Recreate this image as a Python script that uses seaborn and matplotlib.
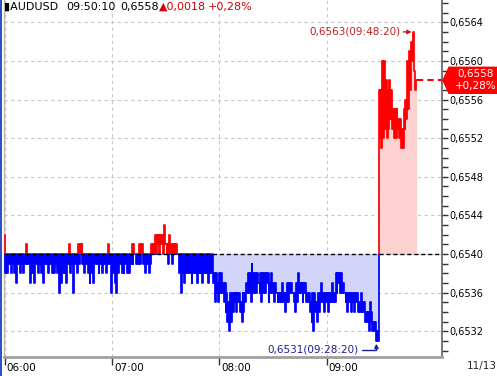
import numpy as np
import pandas as pd
import matplotlib
matplotlib.use("Agg")
import matplotlib.pyplot as plt
import seaborn as sns
from matplotlib.patches import Rectangle, Polygon
from matplotlib.transforms import ScaledTranslation, IdentityTransform

# ---------------- data (per-minute tick range, AUDUSD, from 06:00) ----------------
hour_labels = ["06:00", "07:00", "08:00", "09:00"]
baseline = 0.6540          # previous close
last_price = 0.6558
header_black = ["\u25aeAUDUSD", "09:50:10", "0,6558"]
header_red = ["\u25b20,0018", "+0,28%"]
change_pct = "+0,28%"
date_label = "11/13"

hi = [
    0.6542, 0.6540, 0.6540, 0.6540, 0.6540, 0.6540, 0.6540, 0.6540, 0.6540, 0.6540,
    0.6540, 0.6540, 0.6541, 0.6540, 0.6540, 0.6540, 0.6540, 0.6540, 0.6540, 0.6540,
    0.6540, 0.6540, 0.6540, 0.6540, 0.6540, 0.6540, 0.6540, 0.6540, 0.6540, 0.6540,
    0.6540, 0.6540, 0.6540, 0.6540, 0.6540, 0.6540, 0.6541, 0.6540, 0.6540, 0.6540,
    0.6540, 0.6541, 0.6541, 0.6541, 0.6540, 0.6540, 0.6540, 0.6540, 0.6540, 0.6540,
    0.6540, 0.6540, 0.6540, 0.6540, 0.6540, 0.6540, 0.6540, 0.6540, 0.6541, 0.6540,
    0.6540, 0.6540, 0.6540, 0.6540, 0.6540, 0.6540, 0.6540, 0.6540, 0.6540, 0.6540,
    0.6540, 0.6541, 0.6541, 0.6540, 0.6540, 0.6541, 0.6541, 0.6541, 0.6540, 0.6540,
    0.6540, 0.6540, 0.6541, 0.6541, 0.6542, 0.6542, 0.6542, 0.6542, 0.6542, 0.6543,
    0.6541, 0.6541, 0.6542, 0.6541, 0.6541, 0.6541, 0.6541, 0.6540, 0.6540, 0.6540,
    0.6540, 0.6540, 0.6540, 0.6540, 0.6540, 0.6540, 0.6540, 0.6540, 0.6540, 0.6540,
    0.6540, 0.6540, 0.6540, 0.6540, 0.6540, 0.6540, 0.6540, 0.6538, 0.6538, 0.6537,
    0.6538, 0.6538, 0.6537, 0.6537, 0.6536, 0.6535, 0.6536, 0.6536, 0.6536, 0.6536,
    0.6536, 0.6536, 0.6535, 0.6536, 0.6536, 0.6537, 0.6538, 0.6538, 0.6539, 0.6538,
    0.6538, 0.6538, 0.6537, 0.6538, 0.6538, 0.6538, 0.6538, 0.6538, 0.6537, 0.6538,
    0.6537, 0.6537, 0.6536, 0.6536, 0.6536, 0.6537, 0.6536, 0.6536, 0.6537, 0.6537,
    0.6537, 0.6536, 0.6536, 0.6537, 0.6538, 0.6537, 0.6537, 0.6537, 0.6537, 0.6536,
    0.6536, 0.6535, 0.6536, 0.6536, 0.6535, 0.6536, 0.6536, 0.6537, 0.6536, 0.6536,
    0.6536, 0.6536, 0.6536, 0.6537, 0.6536, 0.6538, 0.6538, 0.6538, 0.6538, 0.6537,
    0.6536, 0.6536, 0.6536, 0.6536, 0.6536, 0.6536, 0.6536, 0.6536, 0.6535, 0.6536,
    0.6535, 0.6535, 0.6534, 0.6534, 0.6535, 0.6534, 0.6533, 0.6533, 0.6532, 0.6557,
    0.6557, 0.6560, 0.6560, 0.6558, 0.6557, 0.6558, 0.6557, 0.6555, 0.6555, 0.6555,
    0.6554, 0.6554, 0.6553, 0.6555, 0.6556, 0.6560, 0.6561, 0.6562, 0.6563, 0.6559,
    0.6558,
]
lo = [
    0.6538, 0.6538, 0.6539, 0.6538, 0.6539, 0.6538, 0.6537, 0.6539, 0.6538, 0.6539,
    0.6538, 0.6539, 0.6539, 0.6539, 0.6537, 0.6538, 0.6537, 0.6539, 0.6538, 0.6539,
    0.6538, 0.6537, 0.6539, 0.6539, 0.6538, 0.6539, 0.6538, 0.6538, 0.6539, 0.6538,
    0.6536, 0.6537, 0.6538, 0.6538, 0.6537, 0.6539, 0.6538, 0.6539, 0.6536, 0.6539,
    0.6538, 0.6539, 0.6540, 0.6539, 0.6538, 0.6539, 0.6538, 0.6537, 0.6538, 0.6537,
    0.6539, 0.6539, 0.6538, 0.6539, 0.6538, 0.6539, 0.6538, 0.6539, 0.6539, 0.6536,
    0.6538, 0.6537, 0.6536, 0.6538, 0.6539, 0.6538, 0.6538, 0.6539, 0.6538, 0.6538,
    0.6539, 0.6539, 0.6540, 0.6539, 0.6539, 0.6539, 0.6540, 0.6539, 0.6538, 0.6539,
    0.6538, 0.6539, 0.6540, 0.6540, 0.6540, 0.6541, 0.6540, 0.6541, 0.6540, 0.6541,
    0.6540, 0.6539, 0.6540, 0.6539, 0.6540, 0.6540, 0.6540, 0.6538, 0.6536, 0.6538,
    0.6537, 0.6538, 0.6538, 0.6538, 0.6537, 0.6538, 0.6538, 0.6537, 0.6538, 0.6538,
    0.6537, 0.6538, 0.6538, 0.6537, 0.6538, 0.6538, 0.6537, 0.6535, 0.6536, 0.6535,
    0.6536, 0.6536, 0.6535, 0.6534, 0.6533, 0.6532, 0.6533, 0.6534, 0.6535, 0.6534,
    0.6535, 0.6534, 0.6533, 0.6534, 0.6535, 0.6536, 0.6536, 0.6535, 0.6536, 0.6536,
    0.6536, 0.6537, 0.6536, 0.6535, 0.6536, 0.6536, 0.6537, 0.6535, 0.6536, 0.6536,
    0.6535, 0.6536, 0.6535, 0.6535, 0.6535, 0.6535, 0.6534, 0.6535, 0.6535, 0.6536,
    0.6536, 0.6535, 0.6534, 0.6535, 0.6536, 0.6536, 0.6535, 0.6536, 0.6535, 0.6535,
    0.6534, 0.6533, 0.6532, 0.6534, 0.6533, 0.6534, 0.6535, 0.6535, 0.6534, 0.6535,
    0.6534, 0.6535, 0.6535, 0.6535, 0.6535, 0.6536, 0.6537, 0.6536, 0.6536, 0.6536,
    0.6535, 0.6534, 0.6535, 0.6534, 0.6535, 0.6534, 0.6535, 0.6534, 0.6534, 0.6534,
    0.6534, 0.6533, 0.6533, 0.6532, 0.6533, 0.6532, 0.6532, 0.6531, 0.6531, 0.6552,
    0.6551, 0.6552, 0.6553, 0.6552, 0.6553, 0.6554, 0.6553, 0.6552, 0.6552, 0.6553,
    0.6552, 0.6551, 0.6551, 0.6553, 0.6554, 0.6555, 0.6557, 0.6560, 0.6559, 0.6557,
    0.6558,
]
min_label = "0,6531(09:28:20)"
max_label = "0,6563(09:48:20)"

# ---------------- style ----------------
RED = "#ff0000"
BLUE = "#0000ff"
BLUE_FILL = "#d2d4f8"
RED_FILL = "#ffd2d2"
GRID = "#c8c8c8"
fill_start = 117   # shading starts shortly before 08:00

sns.set_style("white")
plt.rcParams["font.family"] = ["DejaVu Sans"]

hi_a = np.array(hi)
lo_a = np.array(lo)
minute = np.arange(len(hi_a))
tx = np.column_stack([minute, minute + 0.5]).ravel()
ty = np.column_stack([hi_a, lo_a]).ravel()
df = pd.DataFrame({"t": tx, "price": ty})

W, H = 497, 376
fig = plt.figure(figsize=(W / 100, H / 100), dpi=100)
ax = fig.add_axes([4 / W, 19 / H, 438 / W, 357 / H])
xmin, xmax = -0.3, 244.4
ymin, ymax = 0.652933, 0.656632
ax.set_xlim(xmin, xmax)
ax.set_ylim(ymin, ymax)

# fills
cross = fill_start + int(np.argmax(hi_a[fill_start:] > baseline))
xb = np.append(minute[fill_start:cross], cross)
yb = np.append(hi_a[fill_start:cross], hi_a[cross - 1])
ax.fill_between(xb, yb, baseline, step="post", color=BLUE_FILL, lw=0, zorder=1)
xr = np.append(minute[cross:], minute[-1] + 0.5)
yr = np.append(lo_a[cross:], lo_a[-1])
ax.fill_between(xr, yr, baseline, step="post", color=RED_FILL, lw=0, zorder=1)

# price line, coloured by side of baseline
split = baseline + 0.000005
sns.lineplot(data=df, x="t", y="price", drawstyle="steps-post", color=BLUE,
             lw=1.25, estimator=None, sort=False, ax=ax, zorder=4)
ln_b = ax.lines[-1]
ln_b.set_clip_path(Rectangle((xmin - 10, ymin - 1), 1000, split - ymin + 1,
                             transform=ax.transData))
sns.lineplot(data=df, x="t", y="price", drawstyle="steps-post", color=RED,
             lw=1.25, estimator=None, sort=False, ax=ax, zorder=4)
ln_r = ax.lines[-1]
ln_r.set_clip_path(Rectangle((xmin - 10, split), 1000, 1,
                             transform=ax.transData))

# baseline
ax.axhline(baseline, color="black", lw=1, ls=(0, (3, 2)), zorder=5)

# last-price dashed line
last_x = minute[-1] + 0.5
ax.plot([last_x, xmax], [last_price, last_price], color=RED, lw=1.5,
        ls=(0, (3, 2)), zorder=5, clip_on=False)

# axes / ticks
ax.set_xlabel("")
ax.set_ylabel("")
ax.set_xticks([i * 60 for i in range(len(hour_labels))])
ax.set_xticklabels(hour_labels)
ax.set_yticks(np.arange(0.6532, 0.65645, 0.0004))
ax.set_yticks(np.arange(0.6530, 0.65665, 0.0001), minor=True)
ax.yaxis.set_major_formatter(
    matplotlib.ticker.FuncFormatter(lambda v, p: f"{v:.4f}".replace(".", ",")))
ax.yaxis.tick_right()
ax.tick_params(axis="y", which="both", right=True, left=False, length=4,
               width=1, color="#303030", labelsize=7, pad=1.5,
               labelcolor="black")
ax.tick_params(axis="x", which="both", bottom=True, length=6, width=1,
               color="#303030", labelsize=7.5, pad=-2, labelcolor="black")
for lab in ax.get_xticklabels():
    lab.set_ha("left")
    lab.set_transform(lab.get_transform() +
                      ScaledTranslation(2 / 100, 0, fig.dpi_scale_trans))
ax.grid(True, which="major", color=GRID, ls=(0, (3, 3)), lw=0.8)
ax.set_axisbelow(True)
ax.spines["top"].set_visible(False)
ax.spines["bottom"].set_color("#a0a0a0")
ax.spines["bottom"].set_linewidth(2)
ax.spines["right"].set_color("#606060")
ax.spines["right"].set_linewidth(1.2)
ax.spines["left"].set_color("#b8b8b8")
ax.spines["left"].set_linewidth(1)

# min / max annotations
imax = int(np.argmax(hi_a))
imin = int(np.argmin(lo_a))
ax.annotate(max_label, xy=(imax + 0.25, hi_a[imax]), xytext=(-13, 1),
            textcoords="offset pixels", ha="right", va="center", fontsize=7.5,
            color="#c81e1e", zorder=6,
            arrowprops=dict(arrowstyle="-|>", color="#c81e1e", lw=1,
                            shrinkA=0, shrinkB=1, mutation_scale=6))
ax.annotate(min_label, xy=(imin + 0.75, lo_a[imin]), xytext=(-18, -9),
            textcoords="offset pixels", ha="right", va="center", fontsize=7.5,
            color="#1e1e96", zorder=6,
            arrowprops=dict(arrowstyle="-|>", color="#1e1e96", lw=1,
                            shrinkA=0, shrinkB=2, mutation_scale=6,
                            connectionstyle="angle,angleA=0,angleB=90,rad=0"))

# current price tag on the right
fig.canvas.draw()
ypx = ax.transData.transform((0, last_price))[1]
xpx = ax.transAxes.transform((1, 0))[0]
tag = Polygon([(xpx + 1, ypx), (xpx + 7, ypx + 13), (xpx + 60, ypx + 13),
               (xpx + 60, ypx - 13), (xpx + 7, ypx - 13)], closed=True,
              facecolor=RED, edgecolor=RED, transform=IdentityTransform())
fig.add_artist(tag)
fig.text(xpx + 34, ypx + 6, f"{last_price:.4f}".replace(".", ","),
         transform=IdentityTransform(), color="white", fontsize=7.5,
         ha="center", va="center")
fig.text(xpx + 34, ypx - 6, change_pct, transform=IdentityTransform(),
         color="white", fontsize=7.5, ha="center", va="center")

# header
hy = 1 - 7 / H
for txt, x in zip(header_black, [4, 66, 120]):
    fig.text(x / W, hy, txt, fontsize=8, color="black", va="center", ha="left")
for txt, x in zip(header_red, [159, 208]):
    fig.text(x / W, hy, txt, fontsize=8, color="#d00000", va="center", ha="left")

fig.text(467 / W, 1 - 366 / H, date_label, fontsize=7.5, va="center", ha="left")

# left border strip
fig.add_artist(Rectangle((0, 0), 2 / W, 1, transform=fig.transFigure,
                         facecolor="#3050c8", edgecolor="none"))

fig.savefig("out.png", dpi=100)
